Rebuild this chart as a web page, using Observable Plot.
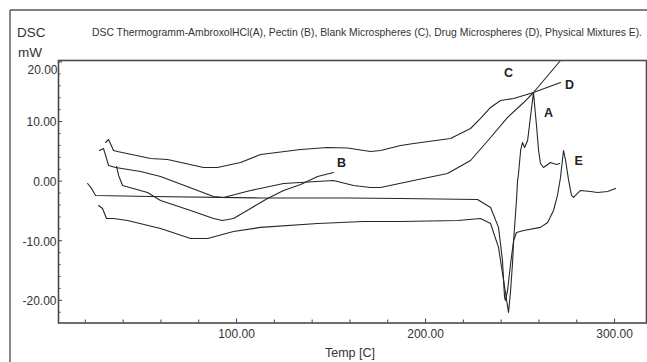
<!DOCTYPE html>
<html><head><meta charset="utf-8">
<script src="https://cdn.jsdelivr.net/npm/d3@7"></script>
<script src="https://cdn.jsdelivr.net/npm/@observablehq/plot@0.6"></script>
<style>body{margin:0;background:#fff}</style>
</head><body><div id="chart"></div>
<script>
// Axis ticks
const xTicks = [100, 200, 300];
const xMinorTicks = [20, 40, 60, 80, 120, 140, 160, 180, 220, 240, 260, 280];
const yTicks = [20, 10, 0, -10, -20];
const yMinorTicks = [-22, -18, -16, -14, -12, -8, -6, -4, -2, 2, 4, 6, 8, 12, 14, 16, 18];

// Curve A: Ambroxol HCl
const tempA = [21.2, 23.3, 25.4, 54.5, 112.7, 158.7, 186.8, 227.5, 234.4, 238.6, 240.7, 241.8, 242.3, 243.4, 245.0, 246.6, 248.1, 248.7, 249.2, 250.3, 251.3, 252.4, 254.0, 255.6, 257.1, 258.7, 259.8, 260.8, 262.4, 266.1, 269.3, 270.9];
const dscA  = [-0.39, -1.22, -2.40, -2.57, -2.82, -2.82, -2.90, -3.07, -4.41, -7.76, -13.30, -19.51, -20.02, -18.34, -13.81, -9.95, -3.24, 0.12, 1.29, 5.15, 6.49, 5.65, 6.83, 11.02, 14.88, 9.35, 5.15, 2.97, 2.30, 3.14, 2.80, 2.97];

// Curve B: Pectin
const tempB = [36.5, 37.6, 39.7, 52.9, 59.8, 75.7, 87.8, 92.6, 98.4, 107.4, 116.4, 124.9, 133.9, 142.9, 151.3];
const dscB  = [2.47, 0.96, -0.72, -1.90, -3.24, -4.92, -6.26, -6.59, -6.26, -4.58, -2.90, -1.56, -0.55, 0.79, 1.46];

// Curve C: Blank microspheres
const tempC = [27.5, 29.6, 32.3, 36.0, 49.2, 59.8, 87.8, 93.1, 107.4, 124.9, 151.3, 161.9, 170.9, 176.2, 193.7, 211.6, 223.8, 234.4, 243.4, 251.9, 257.1, 271.4, 277.8];
const dscC  = [5.15, 5.49, 2.63, 2.30, 1.63, 0.79, -2.57, -2.73, -1.56, -0.39, 0.12, -0.72, -1.06, -1.06, 0.12, 1.29, 3.47, 7.33, 10.69, 13.20, 14.88, 20.25, 22.3];

// Curve D: Drug microspheres
const tempD = [30.7, 32.3, 34.9, 37.0, 54.5, 63.5, 82.5, 89.9, 102.1, 112.7, 133.9, 148.1, 158.7, 170.9, 176.2, 186.8, 193.7, 213.2, 223.8, 229.1, 234.4, 239.7, 246.6, 257.1, 271.4];
const dscD  = [6.49, 7.00, 5.15, 4.98, 3.81, 3.64, 2.30, 2.30, 3.14, 4.48, 5.32, 5.65, 5.57, 4.98, 5.15, 5.99, 6.33, 7.16, 8.84, 10.52, 12.37, 13.54, 13.88, 14.88, 16.56];

// Curve E: Physical mixture
const tempE = [27.0, 29.1, 31.2, 34.9, 42.3, 59.8, 75.7, 84.7, 98.4, 112.7, 142.9, 167.2, 186.8, 216.9, 229.1, 234.4, 238.6, 241.3, 242.9, 243.9, 245.0, 246.0, 246.6, 248.1, 251.9, 260.8, 264.6, 267.7, 269.8, 271.4, 272.5, 273.0, 274.1, 275.7, 277.2, 278.3, 280.4, 282.0, 287.3, 291.0, 296.3, 300.5];
const dscE  = [-4.08, -4.58, -6.26, -6.26, -6.59, -7.94, -9.61, -9.61, -8.44, -7.76, -7.10, -6.76, -6.76, -6.59, -6.26, -7.10, -11.12, -16.66, -20.02, -22.03, -18.34, -13.81, -9.95, -8.61, -8.27, -7.76, -6.93, -4.92, -2.40, 0.62, 3.81, 5.15, 3.47, 0.12, -2.40, -2.73, -2.06, -1.56, -1.73, -1.90, -1.73, -1.22];

// Curve labels
const labelNames = ["A", "B", "C", "D", "E"];
const labelTemp  = [265.1, 155.6, 243.9, 276.2, 281.0];
const labelDsc   = [11.5, 2.97, 18.07, 16.2, 3.46];

const curves = [["A", tempA, dscA], ["B", tempB, dscB], ["C", tempC, dscC], ["D", tempD, dscD], ["E", tempE, dscE]];
const points = curves.flatMap(([name, ts, vs]) => ts.map((t, i) => ({curve: name, t, v: vs[i]})));
const labels = labelNames.map((n, i) => ({label: n, t: labelTemp[i], v: labelDsc[i]}));

const chart = Plot.plot({
  width: 647, height: 362,
  marginLeft: 58, marginRight: 1, marginTop: 60, marginBottom: 39.5,
  x: {domain: [5.8, 316.9]},
  y: {domain: [-23.8, 20.25]},
  style: {fontFamily: "'Liberation Sans', Arial, sans-serif", fontSize: "12px", color: "#333", background: "white"},
  marks: [
    Plot.line(points, {x: "t", y: "v", z: "curve", stroke: "#262626", strokeWidth: 1.1, clip: true}),
    Plot.frame({stroke: "#4a4a4a", strokeWidth: 1.6}),
    Plot.axisX({ticks: xTicks, tickSize: -4, tickFormat: () => "", label: null, stroke: "#444"}),
    Plot.axisX({ticks: xMinorTicks, tickSize: -3, tickFormat: () => "", label: null, stroke: "#444"}),
    Plot.axisY({ticks: yTicks, tickSize: -4, tickFormat: () => "", label: null, stroke: "#444"}),
    Plot.axisY({ticks: yMinorTicks, tickSize: -2.5, tickFormat: () => "", label: null, stroke: "#444"}),
    Plot.text(xTicks, {x: d => d, frameAnchor: "bottom", lineAnchor: "top", dy: 6, text: d => d.toFixed(2), fill: "#333"}),
    Plot.text(yTicks.filter(d => d !== 20), {y: d => d, frameAnchor: "left", textAnchor: "end", dx: -2, dy: 1, text: d => d.toFixed(2), fill: "#333"}),
    Plot.text(yTicks.filter(d => d === 20), {y: d => d, frameAnchor: "left", textAnchor: "end", dx: -1, dy: 8, text: d => d.toFixed(2), fill: "#333"}),
    Plot.text(labels, {x: "t", y: "v", text: "label", fontWeight: "bold", fontSize: 12.5, fill: "#222"})
  ]
});

const svg = d3.select(chart);
svg.append("line").attr("x1", 10).attr("y1", 10).attr("x2", 647).attr("y2", 10).attr("stroke", "#555").attr("stroke-width", 1.4);
svg.append("line").attr("x1", 10).attr("y1", 10).attr("x2", 10).attr("y2", 362).attr("stroke", "#555").attr("stroke-width", 1.4);
const font = "'Liberation Sans', Arial, sans-serif";
svg.append("text").attr("x", 17).attr("y", 37).attr("text-anchor", "start").attr("font-family", font).attr("font-size", 13.5).attr("fill", "#333").text("DSC");
svg.append("text").attr("x", 18).attr("y", 57).attr("text-anchor", "start").attr("font-family", font).attr("font-size", 13.5).attr("fill", "#333").text("mW");
svg.append("text").attr("x", 92).attr("y", 36).attr("text-anchor", "start").attr("font-family", font).attr("font-size", 10.2).attr("fill", "#333")
  .attr("textLength", 550).attr("lengthAdjust", "spacingAndGlyphs")
  .text("DSC Thermogramm-AmbroxolHCl(A), Pectin (B), Blank Microspheres (C), Drug Microspheres (D), Physical Mixtures E).");
svg.append("text").attr("x", 350).attr("y", 357).attr("text-anchor", "middle").attr("font-family", font).attr("font-size", 12.5).attr("fill", "#333").text("Temp [C]");

document.getElementById("chart").append(chart);
</script>
</body></html>
